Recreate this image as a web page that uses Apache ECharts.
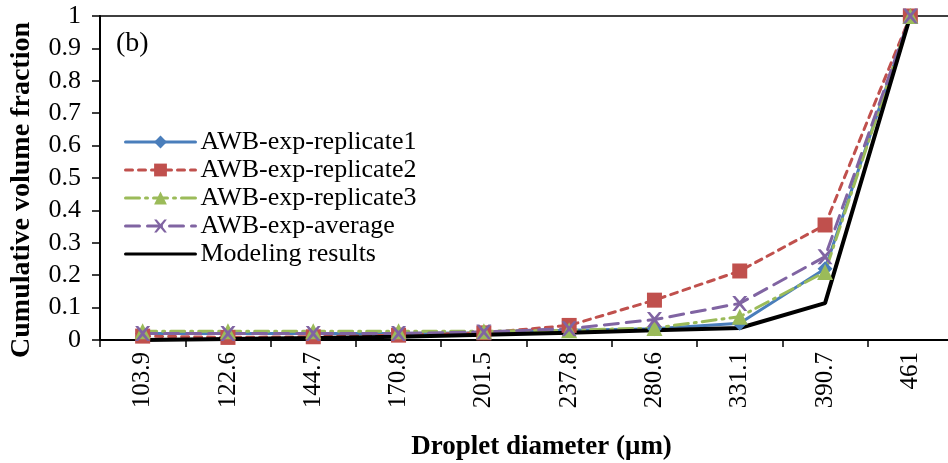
<!DOCTYPE html>
<html lang="en" style="height: 100%">
<head>
<meta charset="utf-8">
<title>Cumulative volume fraction</title>
</head>
<body style="height: 100%; margin: 0; background: #fff">
<div id="container" style="width: 948px; height: 463px"></div>
<script type="text/javascript" src="https://cdn.jsdelivr.net/npm/echarts/dist/echarts.min.js"></script>
<script type="text/javascript">
var dom = document.getElementById('container');
var myChart = echarts.init(dom);

// data
var diameters = ['103.9', '122.6', '144.7', '170.8', '201.5', '237.8', '280.6', '331.1', '390.7', '461'];
var replicate1 = [0.02, 0.02, 0.02, 0.02, 0.022, 0.03, 0.035, 0.052, 0.22, 1];
var replicate2 = [0.012, 0.008, 0.01, 0.015, 0.022, 0.045, 0.123, 0.213, 0.355, 1];
var replicate3 = [0.027, 0.027, 0.027, 0.027, 0.027, 0.03, 0.037, 0.072, 0.21, 1];
var average = [0.02, 0.02, 0.02, 0.02, 0.025, 0.035, 0.063, 0.113, 0.257, 1];
var modeling = [0.0, 0.003, 0.006, 0.01, 0.016, 0.022, 0.03, 0.037, 0.114, 1];
var yTicks = [0, 0.1, 0.2, 0.3, 0.4, 0.5, 0.6, 0.7, 0.8, 0.9, 1];

var serif = '"Liberation Serif", "Times New Roman", serif';
var crossPath = 'path://M0,0 L2,0 L5,3.4 L8,0 L10,0 L6.2,5 L10,10 L8,10 L5,6.6 L2,10 L0,10 L3.8,5 Z';

function lineSeries(name, data, color, type, width, symbol, size) {
    return {
        name: name,
        type: 'line',
        data: data,
        symbol: symbol,
        symbolSize: size,
        showSymbol: symbol !== 'none',
        itemStyle: { color: color },
        lineStyle: { color: color, type: type, width: width, cap: 'round' },
        animation: false
    };
}

var option = {
    backgroundColor: '#fff',
    textStyle: { fontFamily: serif },
    grid: {
        left: 100, top: 16, width: 853, height: 324,
        outerBoundsMode: 'none',
        containLabel: false
    },
    legend: {
        orient: 'vertical',
        left: 119,
        top: 124,
        itemWidth: 70,
        itemHeight: 16,
        itemGap: 2,
        lineStyle: { width: 3 },
        textStyle: { fontFamily: serif, fontSize: 26, color: '#000' },
        data: [
            'AWB-exp-replicate1', 'AWB-exp-replicate2', 'AWB-exp-replicate3', 'AWB-exp-average',
            { name: 'Modeling results', itemStyle: { opacity: 0 } }
        ]
    },
    graphic: [{
        type: 'text',
        left: 116,
        top: 30,
        style: { text: '(b)', font: '28px ' + serif, fill: '#000' }
    }],
    xAxis: [{
        type: 'category',
        data: diameters,
        boundaryGap: true,
        name: 'Droplet diameter (\u03bcm)',
        nameLocation: 'middle',
        nameGap: 94,
        nameTextStyle: { fontFamily: serif, fontSize: 27, fontWeight: 'bold', color: '#000', padding: [0, 0, 0, 30] },
        axisLine: { lineStyle: { color: '#000', width: 2 } },
        axisTick: { show: true, alignWithLabel: false, length: 7, lineStyle: { color: '#000', width: 1.5 } },
        axisLabel: { rotate: 90, fontFamily: serif, fontSize: 25, color: '#000', margin: 12 },
        splitLine: { show: false }
    }, {
        // plain line along the top of the plot
        type: 'category',
        data: diameters,
        position: 'top',
        axisLine: { show: true, onZero: false, lineStyle: { color: '#000', width: 1.5 } },
        axisTick: { show: false },
        axisLabel: { show: false },
        splitLine: { show: false }
    }],
    yAxis: {
        type: 'value',
        min: 0,
        max: 1,
        interval: 0.1,
        name: 'Cumulative volume fraction',
        nameLocation: 'middle',
        nameGap: 64,
        nameTextStyle: { fontFamily: serif, fontSize: 28, fontWeight: 'bold', color: '#000', padding: [0, 24, 0, 0] },
        axisLine: { show: true, lineStyle: { color: '#000', width: 2 } },
        axisTick: { show: true, length: 8, lineStyle: { color: '#000', width: 1.5 } },
        axisLabel: {
            fontFamily: serif, fontSize: 26, color: '#000', margin: 19,
            formatter: function (v) {
                var t = yTicks.find(function (k) { return Math.abs(k - v) < 1e-9; });
                return t === undefined ? '' : String(t);
            }
        },
        splitLine: { show: false }
    },
    series: [
        lineSeries('AWB-exp-replicate1', replicate1, '#4A7EBB', 'solid', 3, 'diamond', 15),
        lineSeries('AWB-exp-replicate2', replicate2, '#C0504D', [7, 6], 3, 'rect', 15),
        lineSeries('AWB-exp-replicate3', replicate3, '#9BBB59', [14, 6, 2, 6], 3, 'triangle', 16),
        lineSeries('AWB-exp-average', average, '#8064A2', [14, 8], 3, crossPath, 15),
        lineSeries('Modeling results', modeling, '#000000', 'solid', 4, 'none', 0)
    ]
};

if (option && typeof option === 'object') {
    myChart.setOption(option);
}
window.addEventListener('resize', myChart.resize);
</script>
</body>
</html>
